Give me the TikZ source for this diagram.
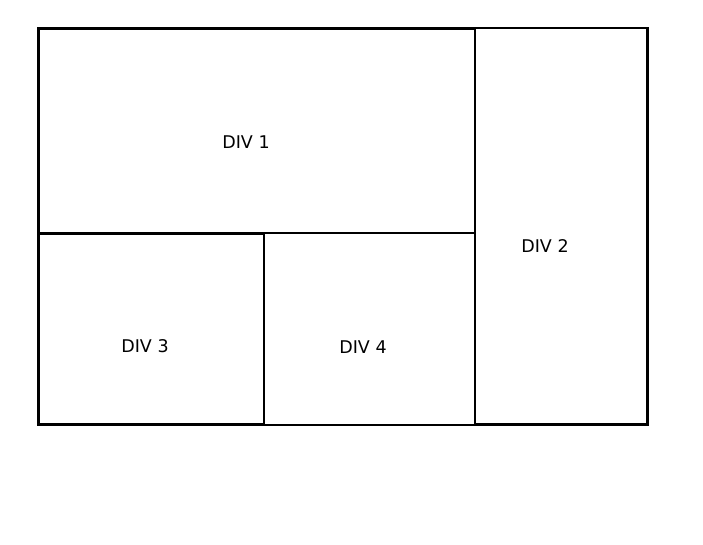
\documentclass[tikz,border=0pt]{standalone}
\usepackage{fontspec}
\setmainfont{DejaVu Sans}
\begin{document}
\begin{tikzpicture}[x=1pt,y=-1pt,
  divbox/.style={draw=black,line width=1.8pt},
  thickbox/.style={draw=black,line width=2.4pt},
  divlabel/.style={font=\fontsize{17.5}{20}\selectfont,inner sep=0pt}]
\useasboundingbox[fill=white] (0,0) rectangle (703,545);
\draw[divbox] (38,28) rectangle (475,233);
\draw[divbox] (475,28) rectangle (648,425);
\draw[divbox] (264,233) rectangle (475,425);
\draw[thickbox] (38.5,233.5) rectangle (264,424.5);
\draw[thickbox] (38.5,28.5) -- (475,28.5);
\draw[thickbox] (38.5,28.5) -- (38.5,233);
\draw[thickbox] (647.5,28.5) -- (647.5,424.5) -- (475,424.5);
\node[divlabel] (d1) at (246,142) {DIV 1};
\node[divlabel] (d2) at (545,246) {DIV 2};
\node[divlabel] (d3) at (145,346) {DIV 3};
\node[divlabel] (d4) at (363,347) {DIV 4};
\end{tikzpicture}
\end{document}
